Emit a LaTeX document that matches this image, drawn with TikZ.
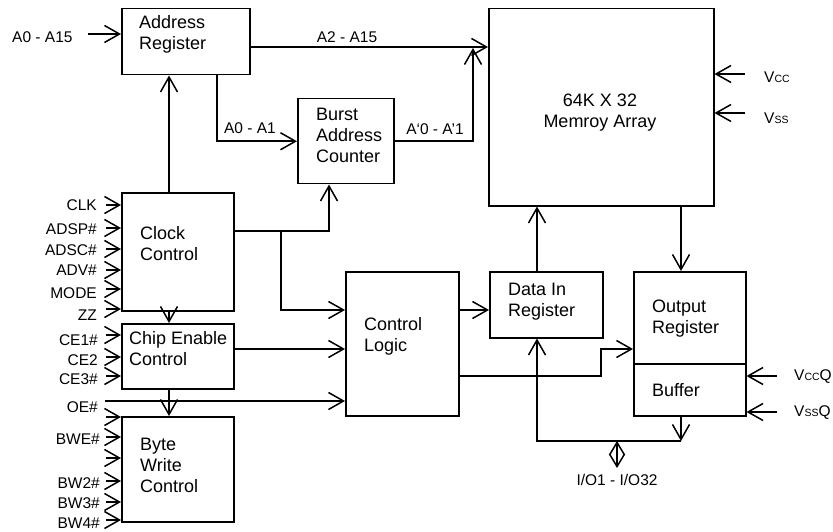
\documentclass[tikz,border=0pt]{standalone}
\usepackage{fontspec}
\setmainfont{Liberation Sans}
\usetikzlibrary{arrows.meta}
\tikzset{
  blk/.style={draw, line width=1.5pt, inner sep=0pt, anchor=north west},
  btxt/.style={font=\fontsize{18}{21}\selectfont, align=left, inner sep=0pt, anchor=base west},
  ltxt/.style={font=\fontsize{15.5}{18}\selectfont, inner sep=0pt},
  arr/.style={-{Straight Barb[length=15pt,width=17pt]}, line width=1.5pt},
  dbl/.style={{Straight Barb[length=12.5pt,width=15pt]}-{Straight Barb[length=12.5pt,width=15pt]}, line width=1.5pt},
}
\newcommand{\sml}[1]{{\fontsize{10.5}{12}\selectfont #1}}
\begin{document}
\begin{tikzpicture}[x=1pt,y=-1pt]
\useasboundingbox (0,0) rectangle (833,532);
\node[blk, minimum width=128pt, minimum height=66pt] (ar) at (121,8) {};
\node[blk, minimum width=96pt, minimum height=85pt] (bac) at (297,98) {};
\node[blk, minimum width=225pt, minimum height=197pt] (mem) at (488,8) {};
\node[blk, minimum width=112pt, minimum height=118pt] (cc) at (121,192) {};
\node[blk, minimum width=112pt, minimum height=65pt] (ce) at (121,323) {};
\node[blk, minimum width=112pt, minimum height=105pt] (bw) at (121,416) {};
\node[blk, minimum width=113pt, minimum height=144pt] (cl) at (345,271) {};
\node[blk, minimum width=113pt, minimum height=66pt] (di) at (489,271) {};
\node[blk, minimum width=112pt, minimum height=92pt] (or) at (633,271) {};
\node[blk, minimum width=112pt, minimum height=52pt] (bf) at (633,363) {};
\node[btxt] (art) at (139,50) {Address\\Register};
\node[btxt] (bact) at (316,163) {Burst\\Address\\Counter};
\node[btxt, align=center, anchor=base] (memt) at (600,128) {64K X 32\\Memroy Array};
\node[btxt] (cct) at (140,260) {Clock\\Control};
\node[btxt] (cet) at (129,365) {Chip Enable\\Control};
\node[btxt] (bwt) at (140,492) {Byte\\Write\\Control};
\node[btxt] (clt) at (364,351) {Control\\Logic};
\node[btxt] (dit) at (508,316) {Data In\\Register};
\node[btxt] (ort) at (652,333) {Output\\Register};
\node[btxt] (bft) at (652,396) {Buffer};
\coordinate (inA) at (88,34);
\draw[arr] (inA) -- (inA -| ar.west);
\node[ltxt, anchor=west] (lA) at (12,37) {A0 - A15};
\draw[arr] (ar.east |- 0,47) -- (mem.west |- 0,47);
\node[ltxt] (lhi) at (347,37) {A2 - A15};
\draw[arr] (ar.south -| 217,0) |- (bac.west);
\node[ltxt] (llo) at (250,128) {A0 - A1};
\coordinate (ba) at (473,48);
\draw[arr] (bac.east) -| (ba);
\node[ltxt] (lba) at (435,129) {A`0 - A'1};
\draw[arr] (cc.north -| 169,0) -- (ar.south -| 169,0);
\draw[arr] (cc.south -| 169,0) -- (ce.north -| 169,0);
\draw[arr] (ce.south -| 169,0) -- (bw.north -| 169,0);
\draw[arr] (cc.east |- 0,231) -| (bac.south -| 329,0);
\coordinate (jc) at (281,231);
\draw[arr] (jc) |- (cl.west |- 0,310);
\draw[arr] (ce.east |- 0,349) -- (cl.west |- 0,349);
\coordinate (inOE) at (105,401);
\draw[arr] (inOE) -- (inOE -| cl.west);
\node[ltxt, anchor=east] (lOE) at (98,407) {OE\#};
\draw[arr] (cl.east |- 0,310) -- (di.west |- 0,310);
\draw[arr] (cl.east |- 0,376) -| (601,349) -- (or.west |- 0,349);
\coordinate (dx) at (537,0);
\draw[arr] (di.north -| dx) -- (mem.south -| dx);
\draw[arr] (mem.south -| 681,0) -- (or.north -| 681,0);
\coordinate (bus) at (681,441);
\draw[arr] (bf.south -| bus) -- (bus);
\draw[arr] (bus) -| (di.south -| dx);
\coordinate (io) at (617,468);
\draw[dbl] (io) -- (617,441);
\node[ltxt] (lio) at (617,480) {I/O1 - I/O32};
\draw[arr] (745,74) -- (mem.east |- 0,74);
\draw[arr] (745,113) -- (mem.east |- 0,113);
\node[ltxt, anchor=west] (lvcc) at (764,77) {V\sml{CC}};
\node[ltxt, anchor=west] (lvss) at (764,118) {V\sml{SS}};
\draw[arr] (777,376) -- (bf.east |- 0,376);
\draw[arr] (777,412) -- (bf.east |- 0,412);
\node[ltxt, anchor=west] (lvccq) at (794,377) {V\sml{CC}Q};
\node[ltxt, anchor=west] (lvssq) at (794,413) {V\sml{SS}Q};
\foreach \ya/\yl/\t in {205/205/CLK, 228/229/ADSP\#, 249/250/ADSC\#, 270/270/ADV\#, 289/293/MODE, 309/315/ZZ} {
  \coordinate (c\ya) at (106,\ya);
  \draw[arr] (c\ya) -- (c\ya -| cc.west);
  \node[ltxt, anchor=east] (lc\ya) at (97,\yl) {\t};
}
\foreach \ya/\yl/\t in {335/340/CE1\#, 357/360/CE2, 376/379/CE3\#} {
  \coordinate (e\ya) at (106,\ya);
  \draw[arr] (e\ya) -- (e\ya -| ce.west);
  \node[ltxt, anchor=east] (le\ya) at (98,\yl) {\t};
}
\foreach \ya in {417,437,458,481,502,520} {
  \coordinate (w\ya) at (106,\ya);
  \draw[arr] (w\ya) -- (w\ya -| bw.west);
}
\foreach \yl/\t in {439/BWE\#, 483/BW2\#, 503/BW3\#, 523/BW4\#}
  \node[ltxt, anchor=east] (lw\yl) at (100,\yl) {\t};
\end{tikzpicture}
\end{document}
